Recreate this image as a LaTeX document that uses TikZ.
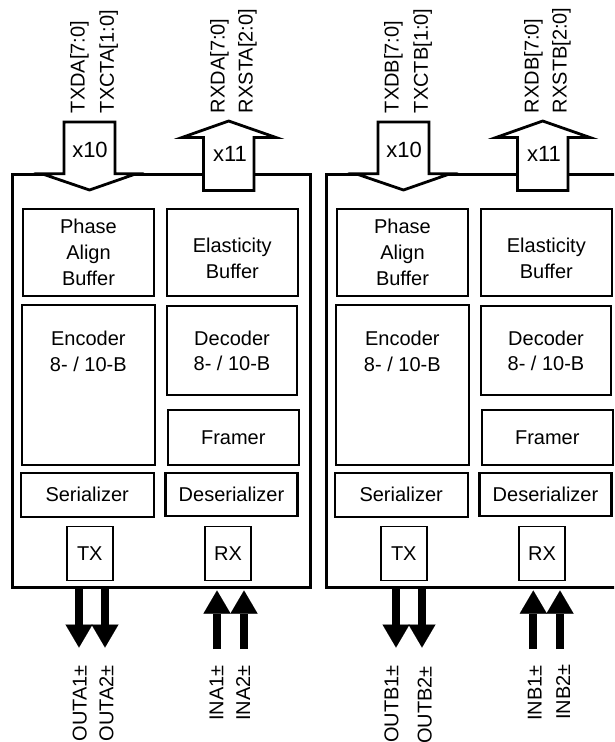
\documentclass[tikz,border=0pt]{standalone}
\usepackage{fontspec}
\setmainfont{Liberation Sans}
\usetikzlibrary{arrows.meta}
\begin{document}
\begin{tikzpicture}[x=1pt,y=-1pt,
  every node/.style={font=\fontsize{20}{25.7}\selectfont, inner sep=0pt},
  outerbox/.style={draw, line width=3pt},
  blk/.style={draw, line width=2.3pt, align=center},
  iobox/.style={draw, line width=1.6pt},
  barrow/.style={draw, fill=white, line width=2.8pt, line join=miter},
  sig/.style={line width=8pt, -{Triangle[width=27pt,length=23pt,line width=0.01pt]}},
  vlab/.style={rotate=90},
  mult/.style={font=\fontsize{22}{26}\selectfont}
]
\useasboundingbox (0,0) rectangle (614,742);
\clip (0,0) rectangle (614,742);
\foreach \dx/\m in {0/A, 314/B} {
 \begin{scope}[xshift=\dx pt]
  \node[outerbox, minimum width=297.5pt, minimum height=413.2pt] (mod\m) at (161.25,380.9) {};
  \node[blk, minimum width=131pt, minimum height=87pt] (pab\m) at (88.5,252.2) {Phase\\Align\\Buffer};
  \node[blk, minimum width=131pt, minimum height=87pt,
        label={[align=center,yshift=-6pt]center:Elasticity\\Buffer}] (eb\m) at (232.3,252.2) {};
  \node[blk, minimum width=133pt, minimum height=160pt,
        label={[align=center,yshift=34.3pt]center:Encoder\\8- / 10-B}] (enc\m) at (88.3,385.3) {};
  \node[blk, minimum width=130pt, minimum height=89pt] (dec\m) at (232,350.8) {Decoder\\8- / 10-B};
  \node[blk, minimum width=131pt, minimum height=55pt] (fr\m) at (233.3,437.8) {Framer};
  \node[blk, minimum width=133pt, minimum height=44pt] (ser\m) at (87.2,494.8) {Serializer};
  \node[blk, minimum width=132pt, minimum height=43pt] (des\m) at (231.5,494.3) {Deserializer};
  \node[iobox, minimum width=46pt, minimum height=54pt] (tx\m) at (89.8,553.3) {TX};
  \node[iobox, minimum width=46pt, minimum height=54pt] (rx\m) at (228,553.3) {RX};
  % wide data arrows
  \draw[barrow] (64,122) -- (64,173.8) -- (42,173.8) -- (89.5,190) -- (136,173.8) -- (115,173.8) -- (115,122) -- cycle;
  \node[mult] (xa\m) at (90,150) {x10};
  \draw[barrow] (203.5,190.5) -- (203.5,137.5) -- (182,137.5) -- (228.7,121) -- (276,137.5) -- (254,137.5) -- (254,190.5) -- cycle;
  \node[mult] (xb\m) at (230,154) {x11};
  % bus labels
  \node[vlab, anchor=base west] (td\m) at (84.7,113.3) {TXD\m[7:0]};
  \node[vlab, anchor=base west] (tc\m) at (113.8,113.3) {TXCT\m[1:0]};
  \node[vlab, anchor=base west] (rd\m) at (224.7,113.3) {RXD\m[7:0]};
  \node[vlab, anchor=base west] (rs\m) at (252.5,113.3) {RXST\m[2:0]};
 \end{scope}
}
% serial lines
\foreach \n/\x in {oa1/79, oa2/105, ob1/396, ob2/422} {
  \coordinate (\n s) at (\x,587.5);
  \coordinate (\n e) at (\x,647.5);
  \draw[sig] (\n s) -- (\n e);
}
\foreach \n/\x in {ia1/217, ia2/244, ib1/533.3, ib2/560} {
  \coordinate (\n s) at (\x,649);
  \coordinate (\n e) at (\x,590.5);
  \draw[sig] (\n s) -- (\n e);
}
\node[vlab, anchor=base east] (loa1) at (86.7,665) {OUTA1±};
\node[vlab, anchor=base east] (loa2) at (113.3,665) {OUTA2±};
\node[vlab, anchor=base east] (lia1) at (223.3,665) {INA1±};
\node[vlab, anchor=base east] (lia2) at (250,665) {INA2±};
\node[vlab, anchor=base east] (lob1) at (398.3,665) {OUTB1±};
\node[vlab, anchor=base east] (lob2) at (431.7,666) {OUTB2±};
\node[vlab, anchor=base east] (lib1) at (541.7,665) {INB1±};
\node[vlab, anchor=base east] (lib2) at (570,664) {INB2±};
\end{tikzpicture}
\end{document}
